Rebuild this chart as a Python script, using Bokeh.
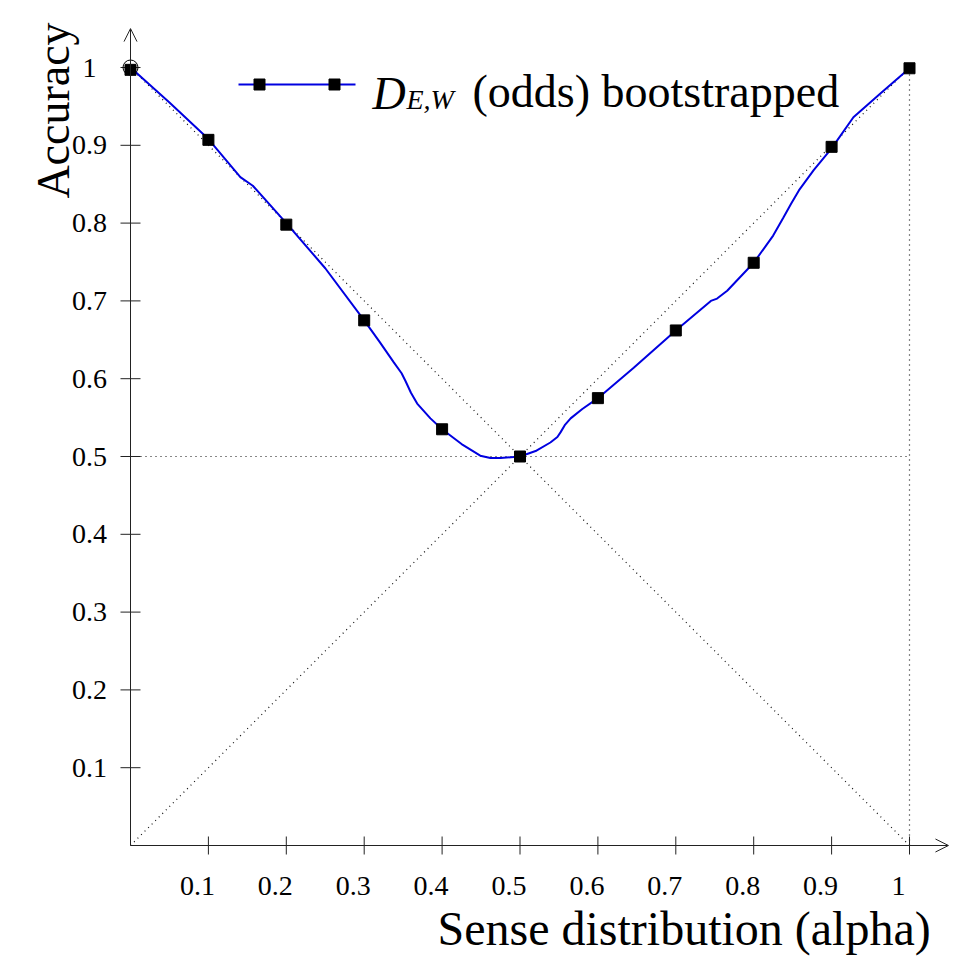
import math
from bokeh.plotting import figure
from bokeh.models import Range1d, Arrow, OpenHead
from bokeh.core.properties import value
from bokeh.embed import file_html
from bokeh.resources import INLINE

# ---------------- data ----------------
alpha_marks = [0.0, 0.1, 0.2, 0.3, 0.4, 0.5, 0.6, 0.7, 0.8, 0.9, 1.0]
acc_marks = [0.997, 0.907, 0.798, 0.675, 0.535, 0.500, 0.575, 0.662, 0.749, 0.898, 0.999]

alpha_curve = [0.0, 0.05, 0.1, 0.141, 0.157, 0.2, 0.25, 0.3, 0.32, 0.338, 0.348, 0.353, 0.36,
               0.368, 0.385, 0.4, 0.425, 0.449, 0.462, 0.475, 0.5, 0.52, 0.539, 0.548, 0.552,
               0.558, 0.565, 0.58, 0.6, 0.646, 0.7, 0.745, 0.753, 0.766, 0.8, 0.825, 0.838,
               0.848, 0.858, 0.877, 0.9, 0.928, 0.963, 1.0]
acc_curve = [1.0, 0.955, 0.908, 0.859, 0.848, 0.800, 0.742, 0.675, 0.647, 0.621, 0.607,
             0.597, 0.582, 0.568, 0.549, 0.535, 0.516, 0.501, 0.498, 0.498, 0.500, 0.507,
             0.518, 0.525, 0.531, 0.541, 0.549, 0.561, 0.575, 0.614, 0.662, 0.700, 0.703,
             0.713, 0.749, 0.784, 0.807, 0.825, 0.842, 0.868, 0.896, 0.936, 0.967, 0.999]

ref_x_up = [0.0, 1.0]      # rising diagonal
ref_y_up = [0.0, 1.0]
ref_x_down = [0.0, 1.0]    # falling diagonal
ref_y_down = [1.0, 0.0]
half_x = [0.0, 1.0]
half_y = [0.5, 0.5]
edge_x = [1.0, 1.0]
edge_y = [0.0, 1.0]
origin_circle_x = [0.0]
origin_circle_y = [1.0]

x_ticks = [0.1, 0.2, 0.3, 0.4, 0.5, 0.6, 0.7, 0.8, 0.9, 1.0]
x_tick_labels = ["0.1", "0.2", "0.3", "0.4", "0.5", "0.6", "0.7", "0.8", "0.9", "1"]
y_ticks = [0.1, 0.2, 0.3, 0.4, 0.5, 0.6, 0.7, 0.8, 0.9, 1.0]
y_tick_labels = ["0.1", "0.2", "0.3", "0.4", "0.5", "0.6", "0.7", "0.8", "0.9", "1"]

x_title = "Sense distribution (alpha)"
y_title = "Accuracy"
legend_main = "D"
legend_sub = "E,W"
legend_rest = "(odds) bootstrapped"

# ---------------- layout ----------------
W, H = 958, 956
X0_PX, X_SCALE = 130.0, 779.0
Y0_PX, Y_SCALE = 845.0, 778.0
AXIS_END = 1.05

def px(v):
    return (v - X0_PX) / X_SCALE

def py(v):
    return (Y0_PX - v) / Y_SCALE

FONT = value("Liberation Serif")
BLUE = "#0000e0"
AXIS_COLOR = "#222222"

p = figure(width=W, height=H, output_backend="svg", toolbar_location=None,
           x_axis_location=None, y_axis_location=None,
           x_range=Range1d(px(0), px(W)), y_range=Range1d(py(H), py(0)),
           min_border=0)
p.grid.visible = False
p.outline_line_color = None
p.background_fill_color = "white"
p.border_fill_color = "white"

# reference dotted lines
dot = dict(line_color="#111111", line_width=1.2, line_dash="1 4")
p.line(ref_x_up, ref_y_up, **dot)
p.line(ref_x_down, ref_y_down, **dot)
p.line(half_x, half_y, **dot)
p.line(edge_x, edge_y, **dot)

# axes with arrows
p.add_layout(Arrow(end=OpenHead(size=13, line_color=AXIS_COLOR, line_width=1),
                   x_start=0, y_start=0, x_end=AXIS_END, y_end=0,
                   line_color=AXIS_COLOR, line_width=1))
p.add_layout(Arrow(end=OpenHead(size=13, line_color=AXIS_COLOR, line_width=1),
                   x_start=0, y_start=0, x_end=0, y_end=AXIS_END,
                   line_color=AXIS_COLOR, line_width=1))

# ticks
p.scatter([0] * len(y_ticks), y_ticks, marker="dash", size=20,
          line_color=AXIS_COLOR, line_width=1)
p.scatter(x_ticks, [0] * len(x_ticks), marker="dash", size=18, angle=math.pi / 2,
          line_color=AXIS_COLOR, line_width=1)

# tick labels
p.text(x_ticks, [0] * len(x_ticks), text=x_tick_labels, text_font=FONT,
       text_font_size="28px", text_align="center", text_baseline="alphabetic",
       x_offset=-11, y_offset=40, text_color="black")
p.text([0] * len(y_ticks), y_ticks, text=y_tick_labels, text_font=FONT,
       text_font_size="28px", text_align="center", text_baseline="alphabetic",
       x_offset=-41, y_offset=0, text_color="black")

# axis titles
p.text([px(437)], [py(928)], text=[x_title], text_font=FONT, text_font_size="48px",
       text_align="left", text_baseline="alphabetic", text_color="black")
p.text([px(53)], [py(110)], text=[y_title], text_font=FONT, text_font_size="46px",
       text_align="center", text_baseline="alphabetic", angle=math.pi / 2,
       text_color="black")

# small open circle at top of y axis
p.scatter(origin_circle_x, origin_circle_y, marker="circle", size=15,
          fill_color=None, line_color="black", line_width=1)

# data series
p.line(alpha_curve, acc_curve, line_color=BLUE, line_width=2)
p.scatter(alpha_marks, acc_marks, marker="square", size=11,
          fill_color="black", line_color="black")

# legend (manual)
p.line([px(238), px(355)], [py(84), py(84)], line_color=BLUE, line_width=2)
p.scatter([px(259), px(334)], [py(84), py(84)], marker="square", size=11,
          fill_color="black", line_color="black")
p.text([px(372)], [py(93)], text=[legend_main], text_font=FONT, text_font_size="46px",
       text_font_style="italic", text_align="left", text_baseline="alphabetic",
       text_color="black")
p.text([px(406)], [py(99)], text=[legend_sub], text_font=FONT, text_font_size="28px",
       text_font_style="italic", text_align="left", text_baseline="alphabetic",
       text_color="black")
p.text([px(472)], [py(91)], text=[legend_rest], text_font=FONT, text_font_size="46px",
       text_font_style="normal", text_align="left", text_baseline="alphabetic",
       text_color="black")

open("out.html", "w").write(file_html(p, INLINE))
